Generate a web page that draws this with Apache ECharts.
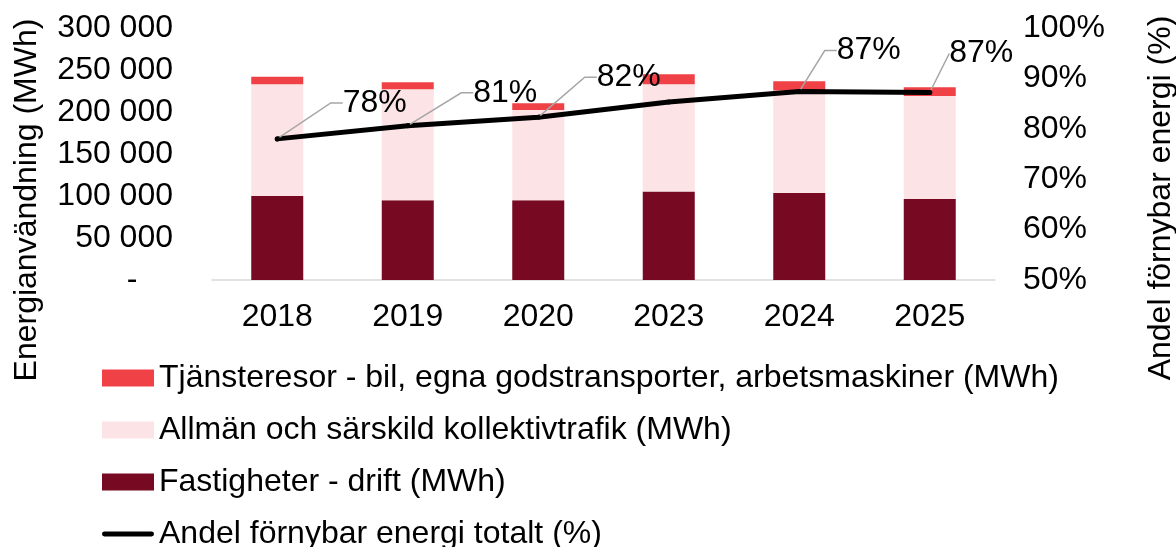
<!DOCTYPE html>
<html>
<head>
<meta charset="utf-8">
<script src="https://cdn.jsdelivr.net/npm/echarts@6/dist/echarts.min.js"></script>
<style>
html,body{margin:0;padding:0;background:#fff;}
#chart{width:1176px;height:547px;}
</style>
</head>
<body>
<div id="chart"></div>
<script>
var categories = ['2018', '2019', '2020', '2023', '2024', '2025'];
var fastigheter = [100000, 95000, 95000, 105500, 103500, 96500];
var kollektivtrafik = [133000, 132000, 107500, 127500, 122000, 122500];
var tjansteresor = [9000, 8500, 8000, 12000, 11000, 10500];
var andelFornybar = [78, 80.6, 82.3, 85.3, 87.4, 87.2];
var showShareLabel = [true, true, true, false, true, true];

var names = {
  tj: 'Tjänsteresor - bil, egna godstransporter, arbetsmaskiner (MWh)',
  ko: 'Allmän och särskild kollektivtrafik (MWh)',
  fa: 'Fastigheter - drift (MWh)',
  an: 'Andel förnybar energi totalt (%)'
};

// label offsets (relative to position 'right') and leader bend length
var labelShift = [[58, -36], [58, -33], [51, -40], [0, 0], [30, -41], [12, -39]];
var leaderBend = [12, 12, 12, 0, 12, 0];

var FONT = 'Liberation Sans, Arial, sans-serif';
var FS = 32;

function fmtThousands(v) {
  if (v === 0) return '-    ';
  var s = String(Math.round(v));
  return s.replace(/\B(?=(\d{3})+(?!\d))/g, ' ');
}

var chart = echarts.init(document.getElementById('chart'), null, {renderer: 'canvas'});

var lineData = andelFornybar.map(function (v, i) {
  return {
    value: v,
    label: {show: showShareLabel[i]},
    labelLine: {show: showShareLabel[i], length2: leaderBend[i]}
  };
});

var option = {
  backgroundColor: '#ffffff',
  animation: false,
  textStyle: {fontFamily: FONT},
  grid: {left: 212, right: 181, top: 28, bottom: 267},
  legend: {
    orient: 'vertical',
    left: 102,
    top: 362,
    height: 250,
    padding: 0,
    itemWidth: 52,
    itemHeight: 17,
    itemGap: 20,
    textStyle: {fontSize: FS, color: '#000', fontFamily: FONT},
    data: [
      {name: names.tj, icon: 'rect'},
      {name: names.ko, icon: 'rect'},
      {name: names.fa, icon: 'rect'},
      {name: names.an, icon: 'path://M2,0 L50,0 A2.5,2.5 0 0 1 50,5 L2,5 A2.5,2.5 0 0 1 2,0 Z'}
    ]
  },
  xAxis: {
    type: 'category',
    data: categories,
    axisLine: {show: true, lineStyle: {color: '#d9d9d9', width: 1.5}},
    axisTick: {show: false},
    axisLabel: {fontSize: FS, color: '#000', margin: 21, fontFamily: FONT}
  },
  yAxis: [
    {
      type: 'value',
      min: 0,
      max: 300000,
      interval: 50000,
      axisLine: {show: false},
      axisTick: {show: false},
      splitLine: {show: false},
      axisLabel: {fontSize: FS, color: '#000', margin: 39, fontFamily: FONT, formatter: fmtThousands}
    },
    {
      type: 'value',
      min: 50,
      max: 100,
      interval: 10,
      axisLine: {show: false},
      axisTick: {show: false},
      splitLine: {show: false},
      axisLabel: {fontSize: FS, color: '#000', margin: 28, fontFamily: FONT, formatter: function (v) { return Math.round(v) + '%'; }}
    }
  ],
  graphic: [
    {
      type: 'text',
      x: 27, y: 200,
      rotation: Math.PI / 2,
      style: {text: 'Energianvändning (MWh)', fontSize: FS, fontFamily: FONT, fill: '#000', textAlign: 'center', textVerticalAlign: 'middle'}
    },
    {
      type: 'text',
      x: 1161, y: 198,
      rotation: Math.PI / 2,
      style: {text: 'Andel förnybar energi (%)', fontSize: FS, fontFamily: FONT, fill: '#000', textAlign: 'center', textVerticalAlign: 'middle'}
    }
  ],
  series: [
    {
      name: names.fa,
      type: 'bar',
      stack: 'energi',
      barWidth: 52,
      data: fastigheter,
      itemStyle: {color: '#780923'}
    },
    {
      name: names.ko,
      type: 'bar',
      stack: 'energi',
      barWidth: 52,
      data: kollektivtrafik,
      itemStyle: {color: '#fce4e6'}
    },
    {
      name: names.tj,
      type: 'bar',
      stack: 'energi',
      barWidth: 52,
      data: tjansteresor,
      itemStyle: {color: '#ef4146'}
    },
    {
      name: names.an,
      type: 'line',
      yAxisIndex: 1,
      data: lineData,
      symbol: 'circle',
      symbolSize: 5,
      itemStyle: {color: '#000'},
      lineStyle: {color: '#000', width: 5, cap: 'round'},
      label: {
        show: true,
        position: 'right',
        distance: 5,
        fontSize: FS,
        color: '#000',
        fontFamily: FONT,
        formatter: function (p) { return Math.round(p.value) + '%'; }
      },
      labelLine: {
        show: true,
        length2: 12,
        lineStyle: {color: '#a6a6a6', width: 1.5}
      },
      labelLayout: function (p) {
        var s = labelShift[p.dataIndex];
        return {dx: s[0], dy: s[1]};
      },
      z: 5
    }
  ]
};

chart.setOption(option);
</script>
</body>
</html>
